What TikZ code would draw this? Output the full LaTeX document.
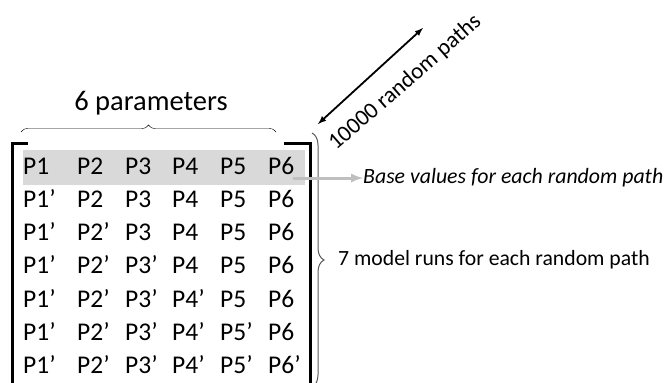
\documentclass[tikz,border=0pt]{standalone}
\usepackage{fontspec}
\setmainfont{Carlito}
\usetikzlibrary{arrows,decorations.pathreplacing}

\begin{document}
\begin{tikzpicture}[>=latex, x=1pt, y=-1pt]
		\useasboundingbox (0,0) rectangle (667,383);
		%base row
		\fill[gray!30] (23,150) rectangle (305,185);
		%table of parameters
		\foreach \r in {1,...,7}{
			\foreach \c/\xc in {1/23,2/77,3/125,4/172,5/220,6/268}{
				\pgfmathtruncatemacro{\pr}{\c<\r}
				\node[anchor=base west, inner sep=0pt, font=\fontsize{25.5}{30}\selectfont]
				(p\r\c) at (\xc,{174+33.3*(\r-1)}) {P\c\ifnum\pr=1 ’\fi};
			}
		}
		%brackets
		\draw[line width=3pt] (28,143) -- (12,143) -- (12,395);
		\draw[line width=3pt] (284,143) -- (310,143) -- (310,395);
		%6 parameters
		\draw[decorate, decoration={brace, amplitude=7pt}] (21,132) -- (276,132);
		\node[font=\fontsize{28.5}{32}\selectfont] (npar) at (151,103) {6 parameters};
		%10000 random paths
		\coordinate (ra) at (318,124);
		\coordinate (rb) at (423,28);
		\draw[<->, line width=1.8pt] (ra) -- (rb);
		\node[anchor=base west, rotate=41, inner sep=0pt, font=\fontsize{23}{26}\selectfont]
		(npaths) at (336,151) {10000 random paths};
		%7 model runs
		\draw[decorate, decoration={brace, amplitude=12pt}, gray!70!black, line width=1pt] (312,133) -- (312,387);
		\node[anchor=west, inner sep=0pt, font=\fontsize{21.7}{24}\selectfont] (nruns) at (338,260) {7 model runs for each random path};
		%base values
		\coordinate (bs) at (293,178);
		\node[anchor=west, inner sep=0pt, font=\fontsize{21.8}{24}\selectfont\itshape] (nbase) at (363,178) {Base values for each random path};
		\draw[->, gray!50, line width=3pt] (bs) -- (nbase.west);
	\end{tikzpicture}
\end{document}
